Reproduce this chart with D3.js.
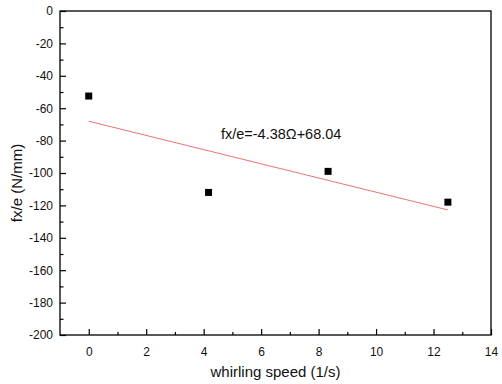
<!DOCTYPE html>
<html>
<head>
<meta charset="utf-8">
<script src="https://cdn.jsdelivr.net/npm/d3@7"></script>
<style>
  body { margin: 0; background: #fff; }
  svg { font-family: "Liberation Sans", Arial, sans-serif; }
</style>
</head>
<body>
<svg id="chart" width="502" height="384"></svg>
<script>
// measured points
const speeds = [0, 4.17, 8.33, 12.5]
const forces = [-52.5, -112, -99, -118]
// fitted line end points
const fitX = [0, 12.5]
const fitY = [-68.04, -122.8]
const fitLabel = 'fx/e=-4.38\u03a9+68.04'
const xTicks = [0, 2, 4, 6, 8, 10, 12, 14]
const yTicks = [0, -20, -40, -60, -80, -100, -120, -140, -160, -180, -200]

const margin = { top: 11, right: 11, bottom: 49, left: 60 }
const width = 502 - margin.left - margin.right
const height = 384 - margin.top - margin.bottom

const svg = d3.select('#chart')
const g = svg.append('g')
  .attr('transform', 'translate(' + margin.left + ',' + margin.top + ')')

const x = d3.scaleLinear().domain([-1, 14]).range([0, width])
const y = d3.scaleLinear().domain([-200, 0]).range([height, 0])

// frame
g.append('rect')
  .attr('width', width).attr('height', height)
  .attr('fill', 'none').attr('stroke', '#000').attr('stroke-width', 1.3)

// minor ticks
g.append('g')
  .attr('transform', 'translate(0,' + height + ')')
  .call(d3.axisBottom(x).tickValues(d3.range(1, 14, 2)).tickSize(-3).tickFormat(''))
  .call(a => a.select('.domain').remove())
g.append('g')
  .call(d3.axisLeft(y).tickValues(d3.range(-190, 0, 20)).tickSize(-3.5).tickFormat(''))
  .call(a => a.select('.domain').remove())

// major ticks (plain hyphen for negatives, like the original)
const plain = d => String(d)
const xAxis = g.append('g')
  .attr('transform', 'translate(0,' + height + ')')
  .call(d3.axisBottom(x).tickValues(xTicks).tickSize(-6).tickPadding(12).tickFormat(plain))
xAxis.select('.domain').remove()
const yAxis = g.append('g')
  .call(d3.axisLeft(y).tickValues(yTicks).tickSize(-6).tickPadding(7).tickFormat(plain))
yAxis.select('.domain').remove()

g.selectAll('.tick line').attr('stroke', '#000').attr('stroke-width', 1.2)
g.selectAll('.tick text').attr('font-size', 12).attr('fill', '#111')
  .attr('font-family', '"Liberation Sans", Arial, sans-serif')

// fit line
const line = d3.line().x(d => x(d[0])).y(d => y(d[1]))
g.append('path')
  .datum(fitX.map((v, i) => [v, fitY[i]]))
  .attr('d', line)
  .attr('fill', 'none')
  .attr('stroke', '#e05050')
  .attr('stroke-width', 0.8)

// points
const s = 7
g.selectAll('rect.pt')
  .data(speeds.map((v, i) => [v, forces[i]]))
  .enter()
  .append('rect')
  .attr('class', 'pt')
  .attr('x', d => x(d[0]) - s / 2)
  .attr('y', d => y(d[1]) - s / 2)
  .attr('width', s).attr('height', s)
  .attr('fill', '#000')

g.append('text')
  .attr('x', x(4.6)).attr('y', y(-79))
  .attr('font-size', 14.5)
  .attr('fill', '#111')
  .text(fitLabel)

// axis labels
svg.append('text')
  .attr('x', margin.left + x(6.5)).attr('y', 377)
  .attr('text-anchor', 'middle')
  .attr('font-size', 15)
  .attr('fill', '#111')
  .text('whirling speed (1/s)')

svg.append('text')
  .attr('transform', 'translate(22,183) rotate(-90)')
  .attr('text-anchor', 'middle')
  .attr('font-size', 15)
  .attr('fill', '#111')
  .text('fx/e (N/mm)')
</script>
</body>
</html>
